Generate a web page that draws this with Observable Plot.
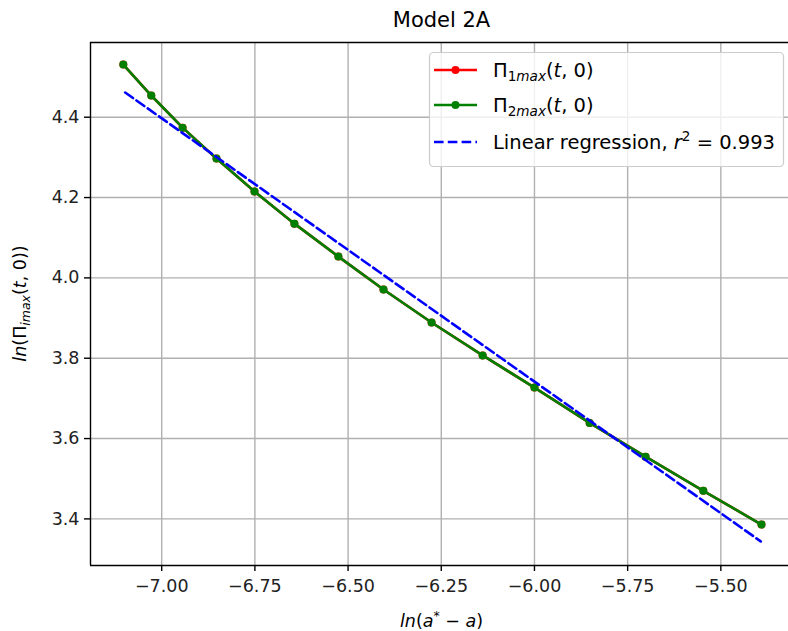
<!DOCTYPE html>
<html>
<head>
<meta charset="utf-8">
<script src="https://cdn.jsdelivr.net/npm/d3@7"></script>
<script src="https://cdn.jsdelivr.net/npm/@observablehq/plot@0.6"></script>
<style>
  html, body { margin: 0; padding: 0; background: #fff; }
  svg { display: block; }
</style>
</head>
<body>
<div id="chart"></div>
<script>
// ---- data ----
const lnA = [-7.103, -7.028, -6.944, -6.853, -6.751, -6.644, -6.526, -6.405, -6.276, -6.139, -6.000, -5.852, -5.702, -5.547, -5.391];
const pi1 = [4.531, 4.454, 4.374, 4.297, 4.215, 4.135, 4.053, 3.971, 3.889, 3.807, 3.727, 3.639, 3.555, 3.470, 3.386];
const pi2 = [4.531, 4.454, 4.374, 4.297, 4.215, 4.135, 4.053, 3.971, 3.889, 3.807, 3.727, 3.639, 3.555, 3.470, 3.386];
const regX = [-7.098, -5.393];
const regY = [4.4615, 3.344];
const xTicks = [-7.0, -6.75, -6.5, -6.25, -6.0, -5.75, -5.5];
const yTicks = [3.4, 3.6, 3.8, 4.0, 4.2, 4.4];
const titleText = "Model 2A";
const r2 = "0.993";

const series = lnA.map((x, i) => ({x, y1: pi1[i], y2: pi2[i]}));
const reg = regX.map((x, i) => ({x, y: regY[i]}));

const W = 788, H = 631;
const mL = 90, mT = 42, mB = 66, mR = 0;
const xDom = [-7.191, -5.3185];
const yDom = [3.284, 4.586];
const FONT = "DejaVu Sans";
const minus = s => s.replace("-", "\u2212");

const plot = Plot.plot({
  width: W, height: H,
  marginLeft: mL, marginTop: mT, marginBottom: mB, marginRight: mR,
  style: {fontFamily: FONT, fontSize: "17.5px", color: "#000", background: "#fff", overflow: "visible"},
  x: {domain: xDom, label: null},
  y: {domain: yDom, label: null},
  marks: [
    Plot.gridX(xTicks, {stroke: "#b0b0b0", strokeOpacity: 1, strokeWidth: 1.4}),
    Plot.gridY(yTicks, {stroke: "#b0b0b0", strokeOpacity: 1, strokeWidth: 1.4}),
    Plot.axisX(xTicks, {tickSize: 6, tickPadding: 8, stroke: "#000", strokeWidth: 1.4, tickFormat: d => minus(d.toFixed(2)), fontSize: 17.5, fill: "#222"}),
    Plot.axisY(yTicks, {tickSize: 6, tickPadding: 5, stroke: "#000", strokeWidth: 1.4, tickFormat: d => d.toFixed(1), fontSize: 17.5, fill: "#222"}),
    Plot.ruleX([xDom[0]], {stroke: "#000", strokeWidth: 1.4}),
    Plot.ruleY([yDom[0], yDom[1]], {stroke: "#000", strokeWidth: 1.4}),
    Plot.line(series, {x: "x", y: "y1", stroke: "red", strokeWidth: 2.6}),
    Plot.dot(series, {x: "x", y: "y1", fill: "red", r: 4}),
    Plot.line(series, {x: "x", y: "y2", stroke: "green", strokeWidth: 2.6}),
    Plot.dot(series, {x: "x", y: "y2", fill: "green", r: 4}),
    Plot.line(reg, {x: "x", y: "y", stroke: "blue", strokeWidth: 2.6, strokeDasharray: "9.6,4.2"})
  ]
});
document.getElementById("chart").appendChild(plot);

// ---- title, axis labels and legend as real SVG text ----
const svg = d3.select(plot);
const cx = (mL + 793) / 2;

svg.append("text").attr("x", cx).attr("y", 27).attr("text-anchor", "middle")
  .attr("font-family", FONT).attr("font-size", 21).attr("fill", "#000").text(titleText);

// x label: ln(a* − a)
const xl = svg.append("text").attr("x", cx).attr("y", 627).attr("text-anchor", "middle")
  .attr("font-family", FONT).attr("font-size", 17.5).attr("fill", "#000");
xl.append("tspan").attr("font-style", "italic").text("ln");
xl.append("tspan").text("(");
xl.append("tspan").attr("font-style", "italic").text("a");
xl.append("tspan").attr("font-size", 12.5).attr("dy", -7).text("*");
xl.append("tspan").attr("dy", 7).text(" \u2212 ");
xl.append("tspan").attr("font-style", "italic").text("a");
xl.append("tspan").text(")");

// y label: ln(Π_imax(t, 0))
const yl = svg.append("text").attr("transform", `translate(26,${(mT + 565) / 2}) rotate(-90)`)
  .attr("text-anchor", "middle").attr("font-family", FONT).attr("font-size", 17.5).attr("fill", "#000");
yl.append("tspan").attr("font-style", "italic").text("ln");
yl.append("tspan").text("(\u03A0");
yl.append("tspan").attr("font-style", "italic").attr("font-size", 12.5).attr("dy", 4).text("imax");
yl.append("tspan").attr("dy", -4).text("(");
yl.append("tspan").attr("font-style", "italic").text("t");
yl.append("tspan").text(", 0))");

// legend
const LF = 19.5, LS = 13.6;
const lg = svg.append("g");
lg.append("rect").attr("x", 429.5).attr("y", 52.5).attr("width", 354).attr("height", 114)
  .attr("rx", 4).attr("fill", "#fff").attr("fill-opacity", 0.8).attr("stroke", "#cccccc").attr("stroke-width", 1.2);

const entries = [
  {color: "red", sub: "1max", y: 70, dash: null},
  {color: "green", sub: "2max", y: 105, dash: null},
  {color: "blue", sub: null, y: 142, dash: "9.6,4.2"}
];
entries.forEach(e => {
  const ln = lg.append("line").attr("x1", 434).attr("x2", 477).attr("y1", e.y).attr("y2", e.y)
    .attr("stroke", e.color).attr("stroke-width", 2.6);
  if (e.dash) ln.attr("stroke-dasharray", e.dash);
  else lg.append("circle").attr("cx", 455.5).attr("cy", e.y).attr("r", 4).attr("fill", e.color);
  const t = lg.append("text").attr("x", 493).attr("y", e.y + 7).attr("text-anchor", "start")
    .attr("font-family", FONT).attr("font-size", LF).attr("fill", "#000");
  if (e.sub) {
    t.append("tspan").text("\u03A0");
    t.append("tspan").attr("font-size", LS).attr("dy", 4).text(e.sub[0]);
    t.append("tspan").attr("font-size", LS).attr("font-style", "italic").text(e.sub.slice(1));
    t.append("tspan").attr("dy", -4).text("(");
    t.append("tspan").attr("font-style", "italic").text("t");
    t.append("tspan").text(", 0)");
  } else {
    t.append("tspan").text("Linear regression, ");
    t.append("tspan").attr("font-style", "italic").text("r");
    t.append("tspan").attr("font-size", LS).attr("dy", -8).text("2");
    t.append("tspan").attr("dy", 8).text(" = " + r2);
  }
});
</script>
</body>
</html>
